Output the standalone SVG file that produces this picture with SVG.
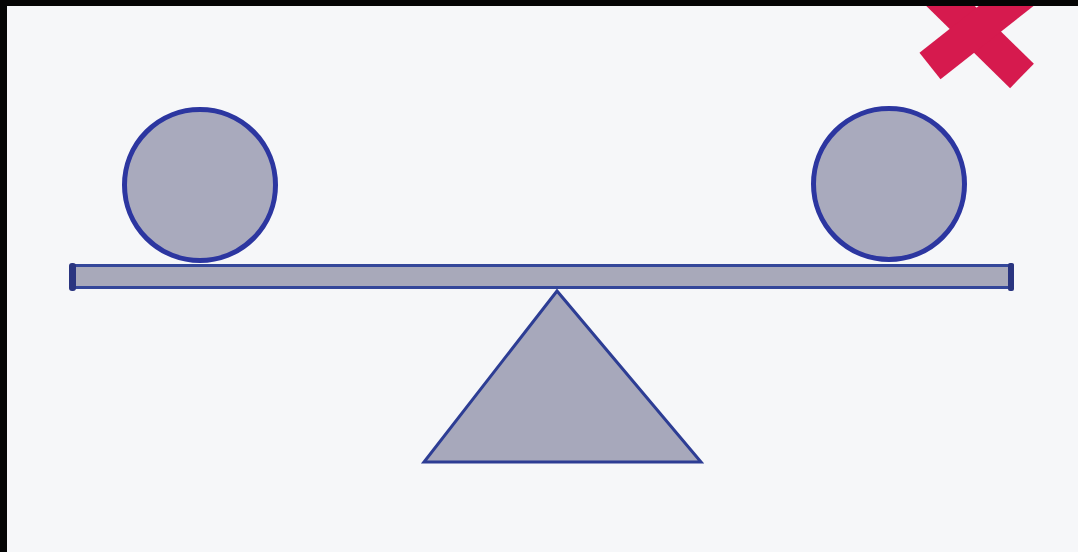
<svg xmlns="http://www.w3.org/2000/svg" width="1078" height="552" viewBox="0 0 1078 552">
  <defs>
    <style>
      .ball { fill: #a9aabd; stroke: #2c36a0; stroke-width: 5; }
      .beam { fill: #a8a9ba; stroke: #34479a; stroke-width: 3; }
      .cap { fill: #2a3580; }
      .fulcrum { fill: #a7a8bb; stroke: #2d3d94; stroke-width: 3; stroke-linejoin: miter; }
      .xmark { stroke: #d61a4e; stroke-width: 34; stroke-linecap: butt; fill: none; }
    </style>
  </defs>
  <rect x="0" y="0" width="1078" height="552" fill="#f6f7f9"/>
  <g id="red-x">
    <line class="xmark" x1="920" y1="-24" x2="1022" y2="76"/>
    <line class="xmark" x1="1034" y1="-16" x2="930" y2="66"/>
  </g>
  <g id="left-ball">
    <circle class="ball" cx="200" cy="185" r="75.5"/>
  </g>
  <g id="right-ball">
    <circle class="ball" cx="889" cy="184" r="75.5"/>
  </g>
  <g id="beam">
    <rect class="beam" x="74" y="265.5" width="938" height="22"/>
    <rect class="cap" x="69" y="263" width="7" height="28" rx="3"/>
    <rect class="cap" x="1008" y="263" width="6" height="28" rx="2"/>
  </g>
  <g id="fulcrum">
    <polygon class="fulcrum" points="557,291 424,462 701,462"/>
  </g>
  <g id="frame">
    <rect x="0" y="0" width="1078" height="6" fill="#050505"/>
    <rect x="0" y="0" width="7" height="552" fill="#050505"/>
  </g>
</svg>
